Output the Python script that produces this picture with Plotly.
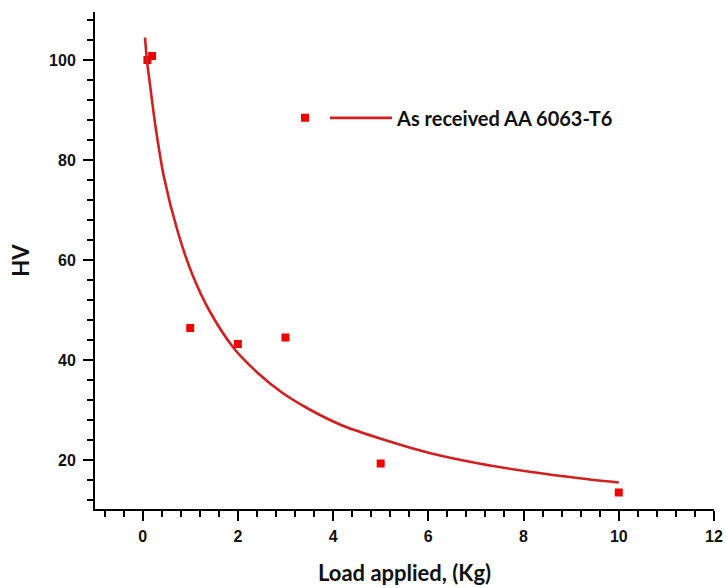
import plotly.graph_objects as go

# Measured hardness data
load_kg = [0.1, 0.2, 1, 2, 3, 5, 10]
hv_values = [100.0, 100.8, 46.4, 43.2, 44.5, 19.3, 13.5]

# Fitted curve
fit_load = [0.05, 0.09, 0.14, 0.28, 0.45, 0.74, 1.04, 1.40, 1.92, 2.42, 2.91, 3.47, 4.17, 5.02, 6.07, 7.12, 8.17, 9.22, 10.0]
fit_hv = [104.5, 100.0, 96.2, 86.1, 76.5, 65.6, 57.2, 49.9, 42.3, 37.4, 33.6, 30.3, 27.0, 24.2, 21.3, 19.2, 17.6, 16.3, 15.5]

series_name = "As received AA 6063-T6"
x_title = "Load applied, (Kg)"
y_title = "HV"

fig = go.Figure()
fig.add_trace(go.Scatter(
    x=load_kg, y=hv_values, mode="markers", name="",
    marker=dict(symbol="square", size=8, color="#f00000"),
    legend="legend2",
))
fig.add_trace(go.Scatter(
    x=fit_load, y=fit_hv, mode="lines", name=series_name,
    line=dict(color="#d21f1f", width=2.6, shape="spline", smoothing=0.8),
    legend="legend",
))

tick_font = dict(family="Liberation Sans, Arial", size=16, color="#111", weight="bold")
title_font = dict(family="Lato, Open Sans", size=22, color="#111", weight="bold")

fig.update_layout(
    width=726, height=588,
    margin=dict(l=95, r=12, t=12, b=79),
    paper_bgcolor="white", plot_bgcolor="white",
    showlegend=True,
    legend=dict(
        orientation="h", x=0.3716, y=0.787, xanchor="left", yanchor="middle",
        font=dict(family="Lato, Open Sans", size=20, color="#111", weight="bold"),
        itemwidth=62, bgcolor="rgba(0,0,0,0)",
    ),
    legend2=dict(
        orientation="h", x=0.307, y=0.787, xanchor="left", yanchor="middle",
        font=dict(family="Lato, Open Sans", size=20, color="#111", weight="bold"),
        itemwidth=30, bgcolor="rgba(0,0,0,0)",
    ),
    xaxis=dict(
        range=[-1, 12], showgrid=False, zeroline=False, automargin=False,
        showline=True, linecolor="black", linewidth=2,
        ticks="outside", ticklen=10, tickwidth=2, tickcolor="black",
        tick0=0, dtick=2, tickfont=tick_font, ticklabelstandoff=2,
        minor=dict(dtick=0.4, ticks="outside", ticklen=6, tickwidth=2, tickcolor="black", showgrid=False),
        title=dict(text=x_title, font=title_font, standoff=21),
    ),
    yaxis=dict(
        range=[10.2, 109.6], showgrid=False, zeroline=False, automargin=False,
        showline=True, linecolor="black", linewidth=2,
        ticks="outside", ticklen=10, tickwidth=2, tickcolor="black",
        tick0=0, dtick=20, tickfont=tick_font, ticklabelstandoff=4,
        minor=dict(dtick=4, ticks="outside", ticklen=6, tickwidth=2, tickcolor="black", showgrid=False),
        title=dict(text=y_title, font=title_font, standoff=13),
    ),
)

fig.write_html("out.html")
